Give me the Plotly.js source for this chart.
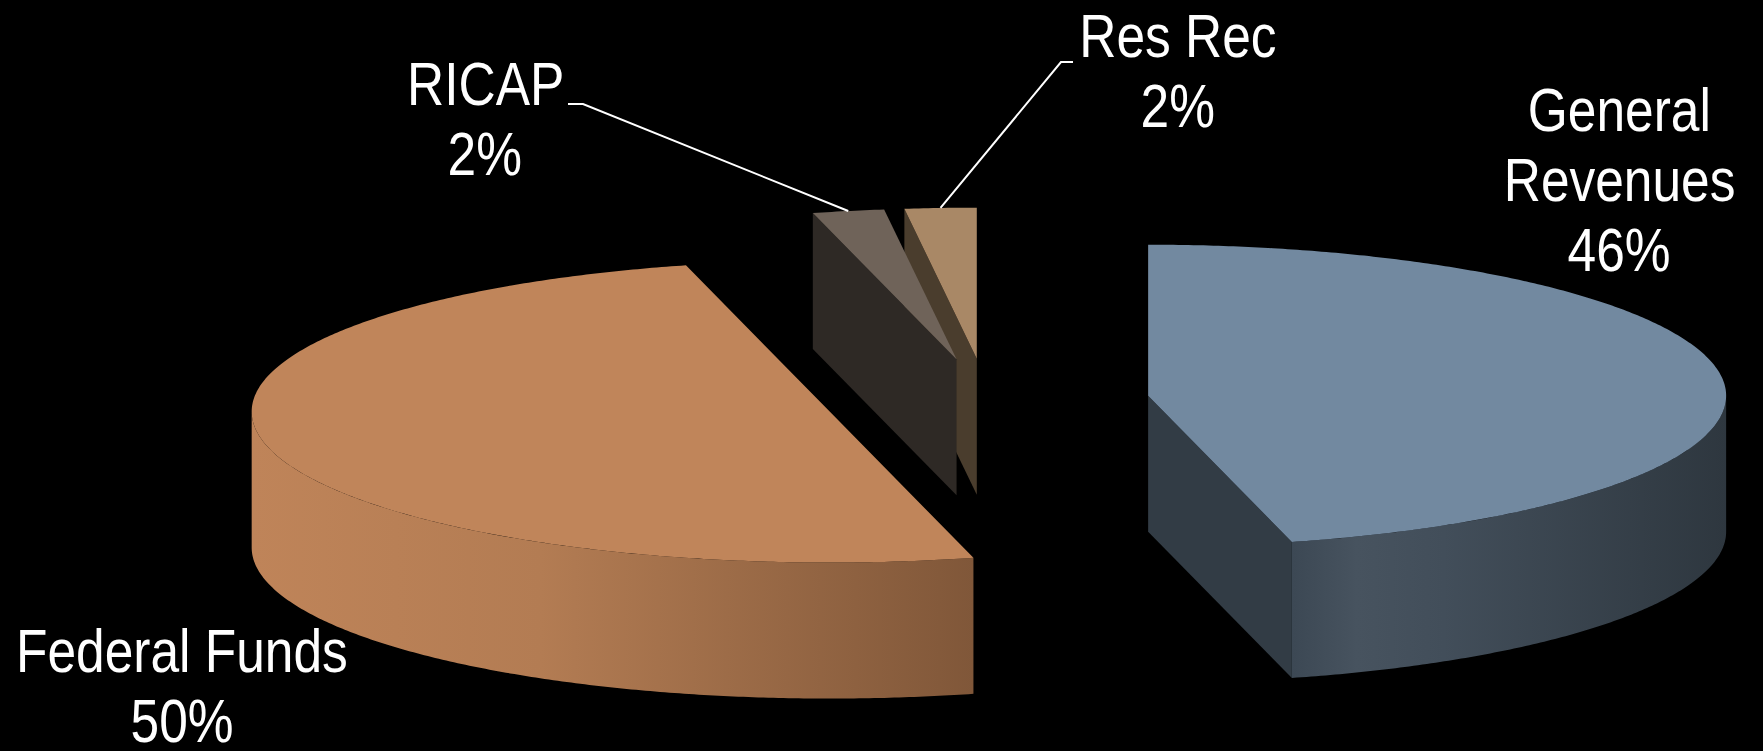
<!DOCTYPE html>
<html>
<head>
<meta charset="utf-8">
<script src="https://cdn.plot.ly/plotly-3.0.1.min.js"></script>
<style>
  html, body { margin: 0; padding: 0; background: #000; }
  #chart { width: 1763px; height: 751px; }
</style>
</head>
<body>
<div id="chart"></div>
<script>
// ---------------- data ----------------
const categories = ['General Revenues', 'Federal Funds', 'RICAP', 'Res Rec'];
const values = [46, 50, 2, 2];            // percent of total
const labelLines = [['General', 'Revenues'], ['Federal Funds'], ['RICAP'], ['Res Rec']];

// ---------------- style / geometry (not data) ----------------
const W = 1763, H = 751;
const PIE = { cx: 987, cy: 401, rx: 578, ry: 151, depth: 136, explode: 0.281, startAngle: 90 };
const sliceStyle = [
  { top: '#7289A0', cut: '#323C45',
    wall: [[0, '#3C4854'], [0.15, '#47535F'], [0.35, '#424E5A'], [1, '#2E373F']] },
  { top: '#C0855A', cut: '#5A3D28',
    wall: [[0, '#BF8459'], [0.4, '#B37C53'], [1, '#805739']] },
  { top: '#6F6359', cut: '#2E2925',
    wall: [[0, '#4A423C'], [1, '#3A332E']] },
  { top: '#A98866', cut: '#4A3D2D',
    wall: [[0, '#7A6248'], [1, '#5A4838']] }
];
const FONT = { family: '"Liberation Sans Narrow", "Arial Narrow", "Liberation Sans", Arial, sans-serif', size: 62, color: '#FFFFFF' };
const NARROW = 0.83;     // horizontal compression to mimic a narrow face
const LINE_GAP = 70;
const labelPos = [
  { x: 1619, baseline: 131 },
  { x: 182, baseline: 672 },
  { x: 485, baseline: 105, leader: { x0: 568, x1: 583, y: 104 } },
  { x: 1178, baseline: 57, leader: { x0: 1073, x1: 1061, y: 62 } }
];

// ---------------- geometry helpers ----------------
const rad = d => d * Math.PI / 180;
const total = values.reduce((a, b) => a + b, 0);

let cursor = PIE.startAngle;
const slices = values.map((v, i) => {
  const span = 360 * v / total;
  const a0 = cursor, a1 = cursor - span, mid = cursor - span / 2;
  cursor = a1;
  const cx = PIE.cx + PIE.explode * PIE.rx * Math.cos(rad(mid));
  const cy = PIE.cy - PIE.explode * PIE.ry * Math.sin(rad(mid));
  return { i, a0, a1, mid, cx, cy };
});

function rim(s, a, z) {
  return [s.cx + PIE.rx * Math.cos(rad(a)), s.cy - PIE.ry * Math.sin(rad(a)) + z];
}
function arc(s, from, to, z) {
  const pts = [];
  const n = Math.max(2, Math.ceil(Math.abs(to - from) / 0.5));
  for (let k = 0; k <= n; k++) pts.push(rim(s, from + (to - from) * k / n, z));
  return pts;
}
function frontRanges(lo, hi) {
  const out = [];
  for (let k = -3; k <= 3; k++) {
    const l = Math.max(lo, -180 + 360 * k), h = Math.min(hi, 360 * k);
    if (h - l > 1e-6) out.push([l, h]);
  }
  return out;
}
function poly(pts, style) {
  const t = {
    type: 'scatter', mode: 'none', fill: 'toself', hoverinfo: 'skip', showlegend: false,
    x: pts.map(p => p[0]), y: pts.map(p => p[1])
  };
  return Object.assign(t, style);
}

// ---------------- build traces (back to front) ----------------
const order = slices.slice().sort((p, q) => Math.sin(rad(q.mid)) - Math.sin(rad(p.mid)));
const traces = [];
order.forEach(s => {
  const st = sliceStyle[s.i];
  // outer side wall (front half only)
  frontRanges(s.a1, s.a0).forEach(([lo, hi]) => {
    const pts = arc(s, lo, hi, 0).concat(arc(s, hi, lo, PIE.depth));
    traces.push(poly(pts, { fillcolor: st.wall[0][1],
      fillgradient: { type: 'horizontal', colorscale: st.wall } }));
  });
  // radial cut faces that face the viewer
  [[s.a0, s.a0 + 90], [s.a1, s.a1 - 90]].forEach(([a, normal]) => {
    if (Math.sin(rad(normal)) < -1e-6) {
      const c0 = [s.cx, s.cy], c1 = [s.cx, s.cy + PIE.depth];
      traces.push(poly([c0, rim(s, a, 0), rim(s, a, PIE.depth), c1], { fillcolor: st.cut }));
    }
  });
  // top face
  const top = [[s.cx, s.cy]].concat(arc(s, s.a0, s.a1, 0));
  traces.push(poly(top, { fillcolor: st.top }));
});

// ---------------- labels & leader lines ----------------
const annotations = [];
const shapes = [];
slices.forEach(s => {
  const lp = labelPos[s.i];
  const lines = labelLines[s.i].concat([Math.round(values[s.i]) + '%']);
  lines.forEach((txt, k) => {
    annotations.push({
      xref: 'x', yref: 'y', x: lp.x, y: lp.baseline + k * LINE_GAP - 0.35 * FONT.size,
      text: txt, showarrow: false, xanchor: 'center', yanchor: 'middle', font: FONT
    });
  });
  if (lp.leader) {
    const end = rim(s, s.mid, 0);
    shapes.push({
      type: 'path', xref: 'x', yref: 'y',
      path: `M${lp.leader.x0},${lp.leader.y} L${lp.leader.x1},${lp.leader.y} L${end[0]},${end[1]}`,
      line: { color: '#FFFFFF', width: 2 }
    });
  }
});

const layout = {
  width: W, height: H,
  margin: { l: 0, r: 0, t: 0, b: 0 },
  paper_bgcolor: '#000000', plot_bgcolor: '#000000',
  xaxis: { range: [0, W], visible: false, fixedrange: true },
  yaxis: { range: [H, 0], visible: false, fixedrange: true },
  showlegend: false, hovermode: false,
  annotations, shapes
};
Plotly.newPlot('chart', traces, layout, { displayModeBar: false, staticPlot: true }).then(gd => {
  gd.querySelectorAll('.annotation-text').forEach(t => {
    const w = t.getComputedTextLength();
    t.setAttribute('textLength', (w * NARROW).toFixed(1));
    t.setAttribute('lengthAdjust', 'spacingAndGlyphs');
  });
});
</script>
</body>
</html>
